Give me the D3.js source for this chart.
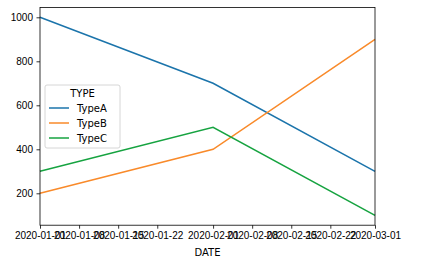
<!DOCTYPE html>
<html>
<head>
<meta charset="utf-8">
<script src="https://cdn.jsdelivr.net/npm/d3@7"></script>
<style>
 body { margin: 0; background: #fff; }
 svg { font-family: "DejaVu Sans", sans-serif; }
 .tick text { font-size: 10px; fill: #000; }
 .domain, .tick line { stroke: #000; stroke-width: 0.8; }
</style>
</head>
<body>
<svg id="chart" width="435" height="261"></svg>
<script>
 // data
 const dates = ['2020-01-01', '2020-02-01', '2020-03-01'];
 const typeA = [1000, 700, 300];
 const typeB = [200, 400, 900];
 const typeC = [300, 500, 100];
 const seriesNames = ['TypeA', 'TypeB', 'TypeC'];
 const colors = ['#1b74ab', '#f98a2a', '#16a340'];
 const xTicks = ['2020-01-01', '2020-01-08', '2020-01-15', '2020-01-22', '2020-02-01',
                 '2020-02-08', '2020-02-15', '2020-02-22', '2020-03-01'];
 const yTicks = [200, 400, 600, 800, 1000];

 const parse = d3.utcParse('%Y-%m-%d');
 const fmt = d3.utcFormat('%Y-%m-%d');
 const series = [typeA, typeB, typeC];

 const mLeft = 40, mRight = 375, mTop = 7.4, mBottom = 225.2;
 const svg = d3.select('#chart');

 const x = d3.scaleUtc()
   .domain([parse(dates[0]), parse(dates[dates.length - 1])])
   .range([mLeft, mRight]);
 const y = d3.scaleLinear().domain([55, 1045]).range([mBottom, mTop]);

 // lines
 const line = d3.line()
   .x((d, i) => x(parse(dates[i])))
   .y(d => y(d));
 series.forEach((s, k) => {
   svg.append('path')
     .datum(s)
     .attr('fill', 'none')
     .attr('stroke', colors[k])
     .attr('stroke-width', 1.5)
     .attr('d', line);
 });

 // frame
 svg.append('rect')
   .attr('x', mLeft).attr('y', mTop)
   .attr('width', mRight - mLeft).attr('height', mBottom - mTop)
   .attr('fill', 'none').attr('stroke', '#000').attr('stroke-width', 0.8);

 // axes
 const xAxis = svg.append('g')
   .attr('transform', `translate(0,${mBottom})`)
   .call(d3.axisBottom(x).tickValues(xTicks.map(parse)).tickFormat(fmt).tickSize(3.5).tickPadding(3.5));
 xAxis.select('.domain').remove();

 const yAxis = svg.append('g')
   .attr('transform', `translate(${mLeft},0)`)
   .call(d3.axisLeft(y).tickValues(yTicks).tickFormat(d3.format('d')).tickSize(3.5).tickPadding(3.5));
 yAxis.select('.domain').remove();

 svg.append('text')
   .attr('x', (mLeft + mRight) / 2).attr('y', 256)
   .attr('text-anchor', 'middle')
   .attr('font-size', 10)
   .text('DATE');

 // legend
 const lg = svg.append('g').attr('transform', 'translate(45,85)');
 lg.append('rect')
   .attr('width', 75).attr('height', 63).attr('rx', 2)
   .attr('fill', '#fff').attr('fill-opacity', 0.8)
   .attr('stroke', '#ccc').attr('stroke-width', 0.8);
 lg.append('text')
   .attr('x', 37.5).attr('y', 12)
   .attr('text-anchor', 'middle').attr('font-size', 10)
   .text('TYPE');
 seriesNames.forEach((name, k) => {
   const yy = 23 + k * 15;
   lg.append('line')
     .attr('x1', 4).attr('x2', 24).attr('y1', yy).attr('y2', yy)
     .attr('stroke', colors[k]).attr('stroke-width', 1.5);
   lg.append('text')
     .attr('x', 32).attr('y', yy + 3.5)
     .attr('font-size', 10)
     .text(name);
 });
</script>
</body>
</html>
